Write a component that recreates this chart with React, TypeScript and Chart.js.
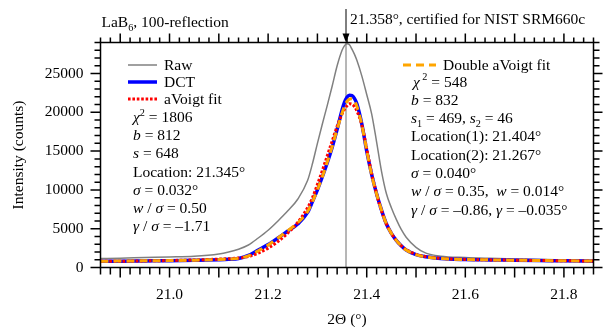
import React, { useEffect, useRef } from 'react';
import { Chart, registerables } from 'chart.js';

Chart.register(...registerables);

// ---------------- data ----------------
const twoTheta = [
  20.86, 20.9, 20.95, 21.0, 21.05,
  21.1, 21.12, 21.14, 21.16, 21.18,
  21.2, 21.22, 21.24, 21.26, 21.28,
  21.29, 21.3, 21.31, 21.32, 21.33,
  21.34, 21.35, 21.355, 21.36, 21.365,
  21.37, 21.375, 21.38, 21.39, 21.4,
  21.41, 21.42, 21.43, 21.44, 21.45,
  21.46, 21.47, 21.48, 21.5, 21.52,
  21.55, 21.6, 21.65, 21.7, 21.75, 21.8, 21.86,
];

const rawCounts = [
  1150, 1200, 1280, 1350, 1450,
  1750, 2000, 2350, 2900, 3800,
  4800, 6000, 7300, 8800, 11200,
  13400, 16000, 18500, 20900, 23400,
  26000, 28000, 28600, 28850, 28700,
  28150, 27500, 26700, 24700, 22300,
  19800, 16200, 12400, 9500, 7700,
  6200, 4900, 3900, 2600, 1850,
  1450, 1280, 1180, 1100, 1040, 980, 920,
];

const dctCounts = [
  800, 820, 850, 880, 930,
  1000, 1050, 1150, 1550, 2250,
  2950, 3800, 4700, 5600, 7100,
  8500, 10000, 11700, 13500, 15500,
  17800, 20300, 21300, 21950, 22200,
  22150, 21800, 21100, 18500, 15000,
  12000, 9500, 7400, 5600, 4400,
  3500, 2800, 2250, 1650, 1380,
  1150, 1030, 980, 940, 900, 860, 800,
];

const aVoigtFit = [
  790, 810, 850, 900, 970,
  1080, 1130, 1220, 1420, 1850,
  2500, 3350, 4450, 5800, 7700,
  9000, 10700, 12500, 14400, 16300,
  18200, 19800, 20400, 20850, 21100,
  21050, 20750, 20200, 18400, 15300,
  12100, 9500, 7300, 5600, 4400,
  3500, 2800, 2300, 1700, 1400,
  1180, 1040, 980, 940, 900, 870, 840,
];

const doubleAVoigtFit = [
  810, 830, 860, 890, 940,
  1020, 1080, 1180, 1500, 2150,
  2900, 3800, 4750, 5750, 7200,
  8500, 10000, 11700, 13600, 15600,
  17800, 19900, 20800, 21400, 21700,
  21750, 21450, 20800, 18400, 15100,
  11900, 9500, 7400, 5600, 4400,
  3500, 2800, 2250, 1650, 1370,
  1150, 1030, 980, 940, 905, 870, 830,
];

const xTickLabels = [21.0, 21.2, 21.4, 21.6, 21.8];
const yTickLabels = [0, 5000, 10000, 15000, 20000, 25000];
const X_MIN = 20.86;
const X_MAX = 21.86;
const Y_MAX = 29000;
const certifiedPosition = 21.358;

const seriesLabels = ['Raw', 'DCT', 'aVoigt fit', 'Double aVoigt fit'];

type Seg = { t: string; i?: boolean; sub?: boolean; sup?: boolean };

const leftStats: Seg[][] = [
  [{ t: 'χ', i: true }, { t: '2', sup: true }, { t: ' = 1806' }],
  [{ t: 'b', i: true }, { t: ' = 812' }],
  [{ t: 's', i: true }, { t: ' = 648' }],
  [{ t: 'Location: 21.345°' }],
  [{ t: 'σ', i: true }, { t: ' = 0.032°' }],
  [{ t: 'w', i: true }, { t: ' / ' }, { t: 'σ', i: true }, { t: ' = 0.50' }],
  [{ t: 'γ', i: true }, { t: ' / ' }, { t: 'σ', i: true }, { t: ' = –1.71' }],
];

const rightStats: Seg[][] = [
  [{ t: 'χ', i: true }, { t: ' 2', sup: true }, { t: ' = 548' }],
  [{ t: 'b', i: true }, { t: ' = 832' }],
  [{ t: 's', i: true }, { t: '1', sub: true }, { t: ' = 469, ' }, { t: 's', i: true }, { t: '2', sub: true }, { t: ' = 46' }],
  [{ t: 'Location(1): 21.404°' }],
  [{ t: 'Location(2): 21.267°' }],
  [{ t: 'σ', i: true }, { t: ' = 0.040°' }],
  [{ t: 'w', i: true }, { t: ' / ' }, { t: 'σ', i: true }, { t: ' = 0.35,  ' }, { t: 'w', i: true }, { t: ' = 0.014°' }],
  [{ t: 'γ', i: true }, { t: ' / ' }, { t: 'σ', i: true }, { t: ' = –0.86, ' }, { t: 'γ', i: true }, { t: ' = –0.035°' }],
];

const FAMILY = "'Liberation Serif', 'Times New Roman', serif";
const FS = 15.5;

function drawRich(ctx: CanvasRenderingContext2D, x: number, y: number, segs: Seg[]) {
  let cx = x;
  for (const s of segs) {
    const small = s.sub || s.sup;
    const size = small ? FS * 0.66 : FS;
    ctx.font = `${s.i ? 'italic ' : ''}${size}px ${FAMILY}`;
    const dy = s.sub ? FS * 0.25 : s.sup ? -FS * 0.4 : 0;
    ctx.fillText(s.t, cx, y + dy);
    cx += ctx.measureText(s.t).width;
  }
}

const decorPlugin = {
  id: 'decor',
  beforeDatasetsDraw(chart: any) {
    const { ctx, chartArea, scales } = chart;
    const px = scales.x.getPixelForValue(certifiedPosition);
    ctx.save();
    ctx.strokeStyle = '#6e6e6e';
    ctx.lineWidth = 1;
    ctx.beginPath();
    ctx.moveTo(px, chartArea.top);
    ctx.lineTo(px, chartArea.bottom);
    ctx.stroke();
    ctx.restore();
  },
  afterDraw(chart: any) {
    const { ctx, chartArea, scales } = chart;
    const { left, right, top, bottom } = chartArea;
    const xs = scales.x;
    const ys = scales.y;
    ctx.save();
    ctx.strokeStyle = '#000';
    ctx.lineWidth = 1.5;
    ctx.strokeRect(left, top, right - left, bottom - top);

    // x ticks (bottom and top)
    ctx.beginPath();
    const k0 = Math.ceil(X_MIN / 0.02 - 1e-6);
    const k1 = Math.floor(X_MAX / 0.02 + 1e-6);
    for (let k = k0; k <= k1; k++) {
      const v = k * 0.02;
      const p = xs.getPixelForValue(v);
      const major = k % 5 === 0;
      ctx.moveTo(p, bottom);
      ctx.lineTo(p, bottom + (major ? 10 : 7));
      ctx.moveTo(p, top);
      ctx.lineTo(p, top - (major ? 9 : 5));
    }
    // y ticks (left and right)
    for (let k = 0; k * 1000 <= Y_MAX; k++) {
      const v = k * 1000;
      const p = ys.getPixelForValue(v);
      const major = k % 5 === 0;
      ctx.moveTo(left, p);
      ctx.lineTo(left - (major ? 10 : 6), p);
      ctx.moveTo(right, p);
      ctx.lineTo(right + (major ? 9 : 6), p);
    }
    ctx.stroke();

    ctx.fillStyle = '#000';
    ctx.textBaseline = 'alphabetic';
    ctx.textAlign = 'left';

    // title
    ctx.font = `${FS}px ${FAMILY}`;
    let tx = 101.5;
    ctx.fillText('LaB', tx, 27);
    tx += ctx.measureText('LaB').width;
    ctx.font = `${FS * 0.66}px ${FAMILY}`;
    ctx.fillText('6', tx, 31);
    tx += ctx.measureText('6').width;
    ctx.font = `${FS}px ${FAMILY}`;
    ctx.fillText(', 100-reflection', tx, 27);

    // certified annotation with arrow
    const ax = xs.getPixelForValue(certifiedPosition);
    ctx.lineWidth = 1;
    ctx.beginPath();
    ctx.moveTo(ax, 9);
    ctx.lineTo(ax, top - 5);
    ctx.stroke();
    ctx.beginPath();
    ctx.moveTo(ax - 3.5, top - 9);
    ctx.lineTo(ax + 3.5, top - 9);
    ctx.lineTo(ax, top);
    ctx.closePath();
    ctx.fill();
    ctx.fillText('21.358°, certified for NIST SRM660c', 350, 24);

    // axis titles
    ctx.textAlign = 'center';
    ctx.fillText('2Θ (°)', (left + right) / 2, 324);
    ctx.save();
    ctx.translate(23, (top + bottom) / 2);
    ctx.rotate(-Math.PI / 2);
    ctx.fillText('Intensity (counts)', 0, 0);
    ctx.restore();
    ctx.textAlign = 'left';

    // legend samples
    const ds = chart.data.datasets;
    const sample = (i: number, x0: number, x1: number, y: number) => {
      const d = ds[i];
      ctx.save();
      ctx.strokeStyle = d.borderColor;
      ctx.lineWidth = d.borderWidth;
      ctx.setLineDash(d.borderDash || []);
      ctx.lineCap = 'butt';
      ctx.beginPath();
      ctx.moveTo(x0, y);
      ctx.lineTo(x1, y);
      ctx.stroke();
      ctx.restore();
    };
    ctx.font = `${FS}px ${FAMILY}`;
    sample(0, 128, 157, 65);
    ctx.fillText(ds[0].label, 164, 70);
    sample(1, 128, 157, 82);
    ctx.fillText(ds[1].label, 164, 87);
    sample(2, 128, 157, 99);
    ctx.fillText(ds[2].label, 164, 104);
    sample(3, 403, 436, 65);
    ctx.font = `${FS}px ${FAMILY}`;
    ctx.fillText(ds[3].label, 443, 70);

    const leftY = [122, 140, 158, 176.5, 194.5, 212.5, 230.5];
    leftStats.forEach((segs, i) => drawRich(ctx, 133, leftY[i], segs));
    const rightY = [86.5, 104.8, 123, 141.3, 159.6, 178, 196, 214.5];
    rightStats.forEach((segs, i) => drawRich(ctx, i === 0 ? 413 : 411, rightY[i], segs));

    ctx.restore();
  },
};

export default function App() {
  const canvasRef = useRef<HTMLCanvasElement | null>(null);

  useEffect(() => {
    const canvas = canvasRef.current;
    if (!canvas) return;
    const pts = (ys: number[]) => twoTheta.map((x, i) => ({ x, y: ys[i] }));
    const chart = new Chart(canvas, {
      type: 'line',
      data: {
        datasets: [
          {
            label: seriesLabels[0],
            data: pts(rawCounts),
            borderColor: '#808080',
            borderWidth: 1.5,
            pointRadius: 0,
            cubicInterpolationMode: 'monotone',
            order: 4,
          },
          {
            label: seriesLabels[1],
            data: pts(dctCounts),
            borderColor: '#0000ff',
            borderWidth: 3.5,
            pointRadius: 0,
            cubicInterpolationMode: 'monotone',
            order: 3,
          },
          {
            label: seriesLabels[2],
            data: pts(aVoigtFit),
            borderColor: '#ff0000',
            borderWidth: 3,
            borderDash: [2.6, 1.8],
            borderCapStyle: 'butt',
            pointRadius: 0,
            cubicInterpolationMode: 'monotone',
            order: 2,
          },
          {
            label: seriesLabels[3],
            data: pts(doubleAVoigtFit),
            borderColor: '#ffa500',
            borderWidth: 3,
            borderDash: [8, 5],
            borderCapStyle: 'butt',
            pointRadius: 0,
            cubicInterpolationMode: 'monotone',
            order: 1,
          },
        ],
      } as any,
      options: {
        animation: false,
        responsive: false,
        devicePixelRatio: 1,
        layout: { padding: { top: 42.5, right: 9.5, left: 0, bottom: 0 } },
        plugins: {
          legend: { display: false },
          tooltip: { enabled: false },
          title: { display: false },
        },
        scales: {
          x: {
            type: 'linear',
            position: 'bottom',
            min: X_MIN,
            max: X_MAX,
            afterBuildTicks: (s: any) => {
              s.ticks = xTickLabels.map((v) => ({ value: v }));
            },
            afterFit: (s: any) => {
              s.height = 327 - 267.5;
            },
            grid: { display: false, drawTicks: false },
            border: { display: false },
            ticks: {
              padding: 18,
              color: '#000',
              autoSkip: false,
              maxRotation: 0,
              font: { family: FAMILY, size: FS },
              callback: (v: any) => Number(v).toFixed(1),
            },
          },
          y: {
            type: 'linear',
            position: 'left',
            min: 0,
            max: Y_MAX,
            afterBuildTicks: (s: any) => {
              s.ticks = yTickLabels.map((v) => ({ value: v }));
            },
            afterFit: (s: any) => {
              s.width = 100.5;
            },
            grid: { display: false, drawTicks: false },
            border: { display: false },
            ticks: {
              padding: 17,
              color: '#000',
              autoSkip: false,
              font: { family: FAMILY, size: FS },
              callback: (v: any) => String(v),
            },
          },
        },
      } as any,
      plugins: [decorPlugin],
    });
    return () => chart.destroy();
  }, []);

  return (
    <div style={{ position: 'absolute', left: 0, top: 0, width: 603, height: 327, background: '#fff' }}>
      <canvas ref={canvasRef} width={603} height={327} style={{ display: 'block' }} />
    </div>
  );
}
